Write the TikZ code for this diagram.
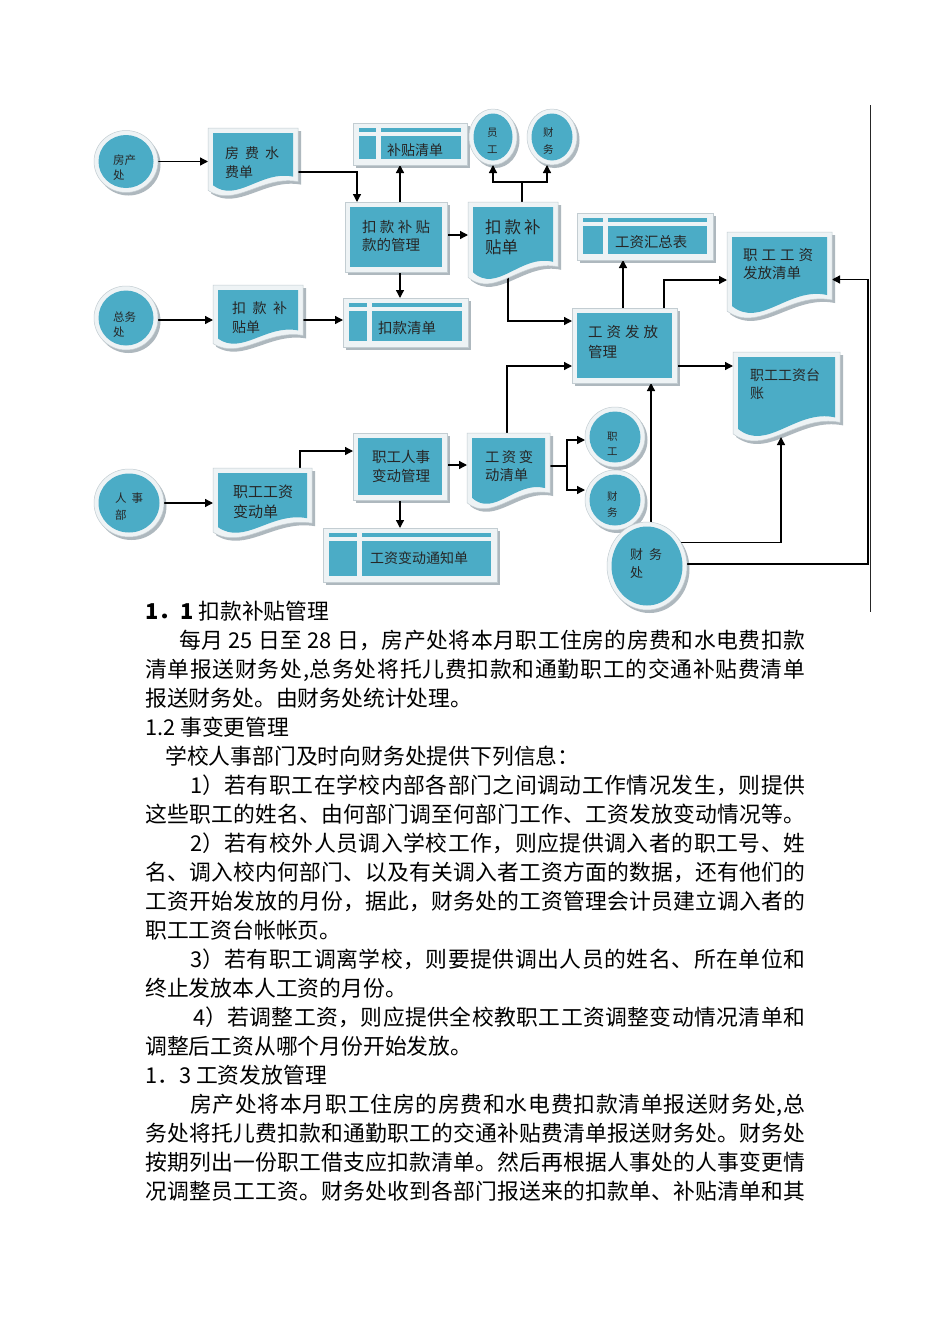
\documentclass[tikz,border=0pt]{standalone}
\usepackage{fontspec}
\setmainfont{Noto Sans CJK SC}
\usetikzlibrary{arrows.meta,shapes.geometric}
\definecolor{bluec}{HTML}{4BACC6}
\definecolor{lightc}{HTML}{EEF3F5}
\definecolor{edgec}{HTML}{C3CDD2}
\definecolor{shc}{HTML}{AEB8BE}
\definecolor{txtc}{HTML}{262626}
\pgfdeclarelayer{bgl}\pgfdeclarelayer{shadowl}\pgfdeclarelayer{conn}
\pgfsetlayers{bgl,shadowl,conn,main}
\newcounter{tc}
\newcommand\g[1]{\hspace{#1pt}}
\makeatletter
\def\sprd#1{\sprd@b#1\@nil}
\def\sprd@b#1{#1\sprd@a}
\def\sprd@n{\@nil}
\def\sprd@a#1{\def\sprd@t{#1}\ifx\sprd@t\sprd@n\else\hskip0pt plus 1fil\relax#1\expandafter\sprd@a\fi}
\makeatother
\newcommand\wavepath[6]{\path[#6] ({#1},{#2}) -- ({#3},{#2}) -- ({#3},{(#4)-0.2*(#5)}) .. controls ({(#1)+0.6*((#3)-(#1))},{(#4)-0.3*(#5)}) and ({(#1)+0.3*((#3)-(#1))},{(#4)+0.2*(#5)}) .. ({#1},{(#4)-0.07*(#5)}) -- cycle;}
\newcommand\docbox[5]{%
 \pgfmathsetmacro\dkH{(#5)-(#3)}%
 \pgfmathsetmacro\dkL{#2+3}\pgfmathsetmacro\dkT{#3+3}\pgfmathsetmacro\dkR{#4+3}\pgfmathsetmacro\dkB{#5+3}%
 \begin{pgfonlayer}{shadowl}\wavepath{\dkL}{\dkT}{\dkR}{\dkB}{\dkH}{fill=shc}\end{pgfonlayer}%
 \wavepath{#2}{#3}{#4}{#5}{\dkH}{fill=lightc,draw=edgec,line width=.5pt}%
 \pgfmathsetmacro\dkL{#2+5}\pgfmathsetmacro\dkT{#3+5}\pgfmathsetmacro\dkR{#4-5}\pgfmathsetmacro\dkB{#5-5}%
 \wavepath{\dkL}{\dkT}{\dkR}{\dkB}{\dkH}{fill=bluec}%
 \pgfmathsetmacro\dkW{(#4)-(#2)}%
 \node[hold,minimum width=\dkW pt,minimum height=\dkH pt] (#1) at ({(#2+#4)/2},{(#3+#5)/2}) {};%
}
\newcommand\procbox[5]{%
 \begin{pgfonlayer}{shadowl}\fill[shc] ({#2+3},{#3+3}) rectangle ({#4+3},{#5+3});\end{pgfonlayer}%
 \filldraw[fill=lightc,draw=edgec,line width=.5pt] (#2,#3) rectangle (#4,#5);%
 \fill[bluec] ({#2+5},{#3+5}) rectangle ({#4-5},{#5-5});%
 \pgfmathsetmacro\dkW{(#4)-(#2)}\pgfmathsetmacro\dkH{(#5)-(#3)}%
 \node[hold,minimum width=\dkW pt,minimum height=\dkH pt] (#1) at ({(#2+#4)/2},{(#3+#5)/2}) {};%
}
\newcommand\storebox[6]{%
 \begin{pgfonlayer}{shadowl}\fill[shc] ({#2+3},{#3+3}) rectangle ({#4+3},{#5+3});\end{pgfonlayer}%
 \filldraw[fill=lightc,draw=edgec,line width=.5pt] (#2,#3) rectangle (#4,#5);%
 \fill[bluec] ({#2+6},{#3+5}) rectangle ({#2+6+#6},{#3+9});%
 \fill[bluec] ({#2+11+#6},{#3+5}) rectangle ({#4-6},{#3+9});%
 \fill[bluec] ({#2+6},{#3+13}) rectangle ({#2+6+#6},{#5-6});%
 \fill[bluec] ({#2+11+#6},{#3+13}) rectangle ({#4-6},{#5-6});%
 \pgfmathsetmacro\dkW{(#4)-(#2)}\pgfmathsetmacro\dkH{(#5)-(#3)}%
 \node[hold,minimum width=\dkW pt,minimum height=\dkH pt] (#1) at ({(#2+#4)/2},{(#3+#5)/2}) {};%
}
\newcommand\circbox[5]{%
 \begin{pgfonlayer}{shadowl}\fill[shc] ({#2+2.5},{#3+3}) ellipse [x radius=#4, y radius=#5];\end{pgfonlayer}%
 \filldraw[fill=lightc,draw=edgec,line width=.5pt] (#2,#3) ellipse [x radius=#4, y radius=#5];%
 \fill[bluec] (#2,#3) ellipse [x radius={#4-4.5}, y radius={#5-4.5}];%
 \pgfmathsetmacro\dkW{2*(#4)}\pgfmathsetmacro\dkH{2*(#5)}%
 \node[ellipse,draw=none,inner sep=0pt,outer sep=0pt,minimum width=\dkW pt,minimum height=\dkH pt] (#1) at (#2,#3) {};%
}
\newcommand\tl[4]{\stepcounter{tc}\node[anchor=base west,inner sep=0pt,font=\fontsize{#3}{#3}\selectfont,text=txtc] (txt\thetc) at (#1,{#2+0.37*#3}) {#4};}
\newcommand\bl[3]{\stepcounter{tc}\node[anchor=base west,inner sep=0pt,font=\fontsize{21.8}{26}\selectfont,text=black] (txt\thetc) at (#1,{#2+8}) {#3};}
\newcommand\jl[2]{\makebox[#1pt][s]{\sprd{#2}}}
\tikzset{
 hold/.style={draw=none,inner sep=0pt,outer sep=0pt,rectangle},
 ln/.style={draw=black,line width=1.3pt,line join=miter},
 arr/.style={ln,-{Triangle[length=8pt,width=8pt]}}
}
\begin{document}
\begin{tikzpicture}[x=1pt,y=-1pt]
\begin{pgfonlayer}{bgl}
\fill[white] (0,0) rectangle (950,1344);
\end{pgfonlayer}
\useasboundingbox (0,0) rectangle (950,1344);

% frame line
\draw[line width=1pt,draw=black!85] (870,105) -- (870,612);

% circles
\circbox{c_fc}{126}{161.5}{32}{31}
\circbox{c_zw}{126}{318}{32}{32}
\circbox{c_rs}{129}{503}{35}{34}
\circbox{c_yg}{493}{137}{24}{28}
\circbox{c_cw1}{552}{137}{25}{28}
\circbox{c_zg}{615}{437}{30}{30}
\circbox{c_cw2}{615}{500}{30}{30}
\circbox{c_cwc}{647}{566}{40}{44}

% documents
\docbox{d_ff}{208}{128}{298}{195}
\docbox{d_kb1}{213}{285}{303}{348}
\docbox{d_kb2}{468}{202}{558}{283}
\docbox{d_ffqd}{727}{232}{832}{317}
\docbox{d_tz}{733}{352}{840}{440}
\docbox{d_bd}{213}{468}{312}{537}
\docbox{d_bdqd}{467}{433}{550}{508}

% processes
\procbox{p_kb}{345}{202}{447}{272}
\procbox{p_gz}{572}{308}{677}{383}
\procbox{p_rs}{353}{433}{447}{500}

% stores
\storebox{s_bt}{353}{123}{467}{165}{17}
\storebox{s_kk}{343}{298}{468}{347}{18}
\storebox{s_hz}{577}{213}{713}{260}{20}
\storebox{s_tz}{323}{528}{497}{582}{28}

% helper coordinates
\coordinate (rt) at (868,0);
\coordinate (a3) at ([shift={(4,0)}]p_kb.north);
\coordinate (a4) at ([shift={(4,0)}]p_kb.south);
\coordinate (a5) at ([shift={(0,-2)}]p_kb.east);
\coordinate (a6) at ([shift={(0,2)}]c_zw.east);
\coordinate (a7) at ([shift={(-3,3.5)}]d_kb1.east);
\coordinate (a10) at ([shift={(-1.5,0)}]p_gz.north);
\coordinate (a12) at ([shift={(0,20.5)}]p_gz.east);
\coordinate (a14) at ([shift={(4,0)}]c_cwc.north);
\coordinate (e16) at ([shift={(0,5)}]d_ffqd.east);
\coordinate (a17) at ([shift={(0,-4.5)}]d_bdqd.east);
\coordinate (a18) at ([shift={(0,-1.5)}]p_rs.east);
\coordinate (a21) at ([shift={(-12,0)}]d_bd.north east);

\begin{pgfonlayer}{conn}
\draw[arr] (c_fc.east) -- (c_fc.east -| d_ff.west);
\draw[arr] ([shift={(0,10.5)}]d_ff.east) -| ([shift={(12,0)}]p_kb.north west);
\draw[arr] (a3) -- (a3 |- s_bt.south);
\draw[arr] (a4) -- (a4 |- s_kk.north);
\draw[arr] (a5) -- (a5 -| d_kb2.west);
\draw[arr] (a6) -- (a6 -| d_kb1.west);
\draw[arr] (a7) -- (a7 -| s_kk.west);
\draw[ln] ([shift={(9,0)}]d_kb2.north) -- ([shift={(9,-20)}]d_kb2.north) coordinate (b1);
\draw[arr] (b1) -| (c_yg.south);
\draw[arr] (b1) -| ([shift={(-5,0)}]c_cw1.south);
\draw[arr] ([shift={(-5,-8)}]d_kb2.south) |- ([shift={(0,-24.5)}]p_gz.west);
\draw[arr] (a10) -- (a10 |- s_hz.south);
\draw[arr] ([shift={(-13,0)}]p_gz.north east) |- ([shift={(0,5.5)}]d_ffqd.west);
\draw[arr] (a12) -- (a12 -| d_tz.west);
\draw[arr] ([shift={(-1.5,0)}]d_bdqd.north) |- ([shift={(0,20.5)}]p_gz.west);
\draw[arr] (a14) -- (a14 |- p_gz.south);
\draw[arr] (c_cwc.35) -| ([shift={(-5.5,-3)}]d_tz.south);
\draw[arr] ([shift={(0,-2)}]c_cwc.east) -| (e16 -| rt) -- (e16);
\draw[ln] (a17) -- ++(17,0) coordinate (b2);
\draw[arr] (b2) |- ([shift={(0,3)}]c_zg.west);
\draw[arr] (b2) |- ([shift={(0,-10)}]c_cw2.west);
\draw[arr] (a18) -- (a18 -| d_bdqd.west);
\draw[arr] (p_rs.south) -- (p_rs.south |- s_tz.north);
\draw[arr] (c_rs.east) -- (c_rs.east -| d_bd.west);
\draw[arr] (a21) |- ([shift={(0,-15.5)}]p_rs.west);
\end{pgfonlayer}

% diagram texts
\tl{113}{160}{11.5}{房产}
\tl{113}{175}{11.5}{处}
\tl{113}{317}{11.5}{总务}
\tl{113}{332}{11.5}{处}
\tl{115}{498}{11.5}{人\g{5}事}
\tl{115}{515}{11.5}{部}
\tl{487}{133}{10.5}{员}
\tl{487}{150}{10.5}{工}
\tl{543}{133}{10.5}{财}
\tl{543}{150}{10.5}{务}
\tl{607}{437}{10.5}{职}
\tl{607}{452}{10.5}{工}
\tl{607}{497}{10.5}{财}
\tl{607}{513}{10.5}{务}
\tl{630}{555}{13}{财\g{6}务}
\tl{630}{573}{13}{处}
\tl{225}{153}{14}{房\g{6}费\g{6}水}
\tl{225}{172}{14}{费单}
\tl{387}{150}{14}{补贴清单}
\tl{362}{227}{14.5}{扣\g{3.3}款\g{3.3}补\g{3.3}贴}
\tl{362}{245}{14.5}{款的管理}
\tl{232}{308}{14}{扣\g{6.5}款\g{6.5}补}
\tl{232}{327}{14}{贴单}
\tl{378}{328}{14.5}{扣款清单}
\tl{485}{227}{16.5}{扣\g{3}款\g{3}补}
\tl{485}{247}{16.5}{贴单}
\tl{615}{242}{14.4}{工资汇总表}
\tl{743}{255}{14.5}{职\g{4}工\g{4}工\g{4}资}
\tl{743}{273}{14.5}{发放清单}
\tl{588}{332}{14.5}{工\g{4}资\g{4}发\g{4}放}
\tl{588}{352}{14.5}{管理}
\tl{750}{375}{14}{职工工资台}
\tl{750}{393}{14}{账}
\tl{372}{457}{14.5}{职工人事}
\tl{372}{476}{14.5}{变动管理}
\tl{233}{492}{15}{职工工资}
\tl{233}{512}{15}{变动单}
\tl{370}{558}{14}{工资变动通知单}
\tl{485}{457}{14.3}{工\g{2.5}资\g{2.5}变}
\tl{485}{475}{14.3}{动清单}

% body text
\bl{145}{611}{{\bfseries 1．1} 扣款补贴管理}
\bl{179}{640}{\jl{626}{每月{ 25 }日至{ 28 }日，房产处将本月职工住房的房费和水电费扣款}}
\bl{145}{669}{\jl{660}{清单报送财务处,总务处将托儿费扣款和通勤职工的交通补贴费清单}}
\bl{145}{698}{报送财务处。由财务处统计处理。}
\bl{145}{727}{1.2 事变更管理}
\bl{165}{756}{学校人事部门及时向财务处提供下列信息：}
\bl{190}{785}{\jl{615}{{1）}若有职工在学校内部各部门之间调动工作情况发生，则提供}}
\bl{145}{814}{\jl{660}{这些职工的姓名、由何部门调至何部门工作、工资发放变动情况等。}}
\bl{190}{843}{\jl{615}{{2）}若有校外人员调入学校工作，则应提供调入者的职工号、姓}}
\bl{145}{872}{\jl{660}{名、调入校内何部门、以及有关调入者工资方面的数据，还有他们的}}
\bl{145}{901}{\jl{660}{工资开始发放的月份，据此，财务处的工资管理会计员建立调入者的}}
\bl{145}{930}{职工工资台帐帐页。}
\bl{190}{959}{\jl{615}{{3）}若有职工调离学校，则要提供调出人员的姓名、所在单位和}}
\bl{145}{988}{终止发放本人工资的月份。}
\bl{193}{1017}{\jl{612}{{4）}若调整工资，则应提供全校教职工工资调整变动情况清单和}}
\bl{145}{1046}{调整后工资从哪个月份开始发放。}
\bl{145}{1075}{1．3 工资发放管理}
\bl{190}{1104}{\jl{615}{房产处将本月职工住房的房费和水电费扣款清单报送财务处,总}}
\bl{145}{1133}{\jl{660}{务处将托儿费扣款和通勤职工的交通补贴费清单报送财务处。财务处}}
\bl{145}{1162}{\jl{660}{按期列出一份职工借支应扣款清单。然后再根据人事处的人事变更情}}
\bl{145}{1191}{\jl{660}{况调整员工工资。财务处收到各部门报送来的扣款单、补贴清单和其}}
\end{tikzpicture}
\end{document}
